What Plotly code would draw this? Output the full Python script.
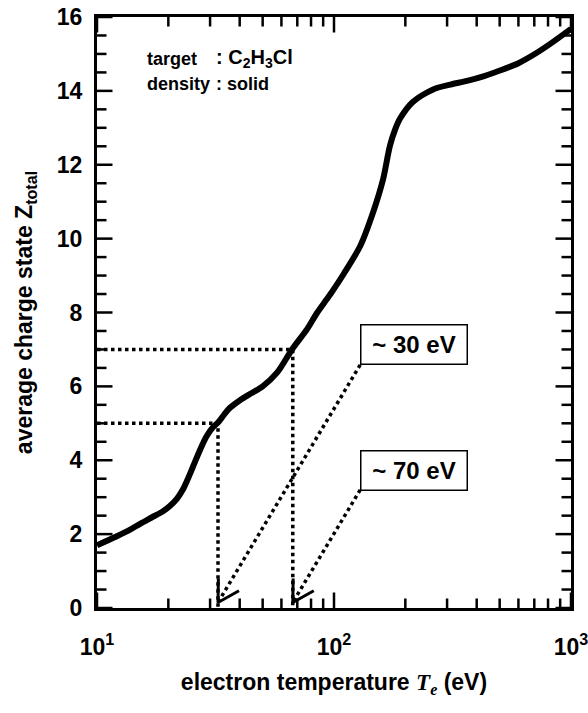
import math
import plotly.graph_objects as go

# ---- data ----
T_eV = [10, 12, 13.8, 15.2, 17, 19, 20.3, 21.8, 23, 24, 25.5, 27.2, 29, 30.9, 32.4, 34.5,
        36.4, 40, 45, 50, 57.5, 66.5, 77, 85, 93, 99, 110, 129, 146, 161, 172, 181, 190,
        215, 262, 310, 364, 430, 501, 600, 692, 820, 1000]
Z_total = [1.70, 1.93, 2.12, 2.28, 2.45, 2.62, 2.76, 2.97, 3.2, 3.45, 3.85, 4.28, 4.65, 4.9,
           5.02, 5.25, 5.42, 5.62, 5.82, 6.0, 6.37, 7.0, 7.55, 8.0, 8.35, 8.6, 9.05, 9.8,
           10.7, 11.6, 12.5, 12.95, 13.25, 13.7, 14.04, 14.17, 14.27, 14.4, 14.55, 14.75,
           14.97, 15.28, 15.68]

# guide lines: reading Z -> T
guide_Z = [5, 7]
guide_T = [32.4, 67]
# arrows from the label boxes to the axis
arrow_start_T = [129, 129]
arrow_start_Z = [6.58, 3.2]
arrow_end_T = [32.4, 67]
arrow_end_Z = [0.15, 0.15]
box_labels = ["~ 30 eV", "~ 70 eV"]

x_major = [10, 100, 1000]
x_major_text = ["10<sup>1</sup>", "10<sup>2</sup>", "10<sup>3</sup>"]
x_minor = [20, 30, 40, 50, 60, 70, 80, 90, 200, 300, 400, 500, 600, 700, 800, 900]
y_major = [0, 2, 4, 6, 8, 10, 12, 14, 16]
y_minor = [1, 3, 5, 7, 9, 11, 13, 15, 0.5, 1.5, 2.5, 3.5, 4.5, 5.5, 6.5, 7.5, 8.5, 9.5,
           10.5, 11.5, 12.5, 13.5, 14.5, 15.5]

# ---- layout constants ----
W, H = 588, 713
ML, MR, MT, MB = 97, 17, 17, 105
X_RANGE = [1, 3]          # log10 range
Y_RANGE = [0, 16]
PX_PER_DEC = (W - ML - MR) / (X_RANGE[1] - X_RANGE[0])
PX_PER_Z = (H - MT - MB) / (Y_RANGE[1] - Y_RANGE[0])
FONT = "Liberation Sans, Arial, Helvetica, sans-serif"
DOT = "3.5px,3.5px"
MAJOR_LEN, MINOR_LEN = 15.5, 9.5

fig = go.Figure()

# guide dotted lines
for z, t in zip(guide_Z, guide_T):
    fig.add_trace(go.Scatter(x=[10 ** X_RANGE[0], t, t], y=[z, z, Y_RANGE[0]], mode="lines",
                             line=dict(color="black", width=3.5, dash=DOT),
                             showlegend=False, hoverinfo="skip"))

# arrows
for ts, zs, te, ze in zip(arrow_start_T, arrow_start_Z, arrow_end_T, arrow_end_Z):
    fig.add_trace(go.Scatter(x=[ts, te], y=[zs, ze], mode="lines",
                             line=dict(color="black", width=3.5, dash=DOT),
                             showlegend=False, hoverinfo="skip"))
    dx = (math.log10(ts) - math.log10(te)) * PX_PER_DEC
    dy = (zs - ze) * PX_PER_Z
    a = math.atan2(dy, dx)
    L = 24
    xs, ys = [], []
    for s in (1, -1):
        aa = a + s * math.radians(30)
        xs.append(10 ** (math.log10(te) + L * math.cos(aa) / PX_PER_DEC))
        ys.append(ze + L * math.sin(aa) / PX_PER_Z)
    fig.add_trace(go.Scatter(x=[xs[0], te, xs[1]], y=[ys[0], ze, ys[1]], mode="lines",
                             line=dict(color="black", width=3),
                             showlegend=False, hoverinfo="skip"))

# main curve
fig.add_trace(go.Scatter(x=T_eV, y=Z_total, mode="lines",
                         line=dict(color="black", width=6, shape="spline", smoothing=0.8),
                         showlegend=False, hoverinfo="skip"))

# inward ticks on all four sides (placed through the axis scales)
tx, ty = [], []
for vals, ln in [(x_major, MAJOR_LEN), (x_minor, MINOR_LEN)]:
    dz = ln / PX_PER_Z
    for v in vals:
        tx += [v, v, None, v, v, None]
        ty += [Y_RANGE[0], Y_RANGE[0] + dz, None, Y_RANGE[1], Y_RANGE[1] - dz, None]
for vals, ln in [(y_major, MAJOR_LEN), (y_minor, MINOR_LEN)]:
    dd = ln / PX_PER_DEC
    for v in vals:
        tx += [10 ** X_RANGE[0], 10 ** (X_RANGE[0] + dd), None,
               10 ** X_RANGE[1], 10 ** (X_RANGE[1] - dd), None]
        ty += [v, v, None, v, v, None]
fig.add_trace(go.Scatter(x=tx, y=ty, mode="lines", line=dict(color="black", width=2.5),
                         showlegend=False, hoverinfo="skip"))

tick_font = dict(family=FONT, size=23, color="black", weight="bold")
line_style = dict(showline=True, linecolor="black", linewidth=3, showgrid=False,
                  zeroline=False, mirror=True)

fig.update_layout(
    xaxis=dict(type="log", range=X_RANGE, tickmode="array", tickvals=x_major,
               ticktext=x_major_text, tickfont=tick_font, ticks="outside",
               ticklen=16, tickcolor="rgba(0,0,0,0)", ticklabeloverflow="allow",
               **line_style,
               title=dict(text="electron temperature <span style='font-family:Liberation Serif'><i>T<sub>e</sub></i></span> (eV)",
                          font=dict(family=FONT, size=23, color="black", weight="bold"),
                          standoff=16)),
    yaxis=dict(range=Y_RANGE, tickmode="array", tickvals=y_major, tickfont=tick_font,
               ticks="outside", ticklen=7, tickcolor="rgba(0,0,0,0)", **line_style,
               title=dict(text="average charge state Z<sub>total</sub>",
                          font=dict(family=FONT, size=23, color="black", weight="bold"),
                          standoff=18)),
)

x_left = (145 - ML) / (W - ML - MR)
x_colon = (214 - ML) / (W - ML - MR)
for txt, yc in [("target", 59), ("density", 84)]:
    fig.add_annotation(text=txt, xref="paper", yref="paper", x=x_left,
                       y=(H - MB - yc) / (H - MT - MB), xanchor="left", yanchor="middle",
                       showarrow=False,
                       font=dict(family=FONT, size=18, color="black", weight="bold"))
for txt, yc, fs in [(": C<sub>2</sub>H<sub>3</sub>Cl", 59, 20), (": solid", 84, 18)]:
    fig.add_annotation(text=txt, xref="paper", yref="paper", x=x_colon,
                       y=(H - MB - yc) / (H - MT - MB), xanchor="left", yanchor="middle",
                       showarrow=False,
                       font=dict(family=FONT, size=fs, color="black", weight="bold"))

box_font = dict(family=FONT, size=24, color="black", weight="bold")
for txt, yc in zip(box_labels, [344.5, 471]):
    fig.add_annotation(text=txt, xref="paper", yref="paper",
                       x=(414 - ML) / (W - ML - MR), y=(H - MB - yc) / (H - MT - MB),
                       xanchor="center", yanchor="middle", showarrow=False,
                       font=box_font, bordercolor="black", borderwidth=1.5,
                       borderpad=1, width=103, height=36, bgcolor="white")

fig.update_layout(width=W, height=H,
                  margin=dict(l=ML, r=MR, t=MT, b=MB, autoexpand=False),
                  plot_bgcolor="white", paper_bgcolor="white",
                  font=dict(family=FONT, color="black"))

fig.write_html("out.html")
